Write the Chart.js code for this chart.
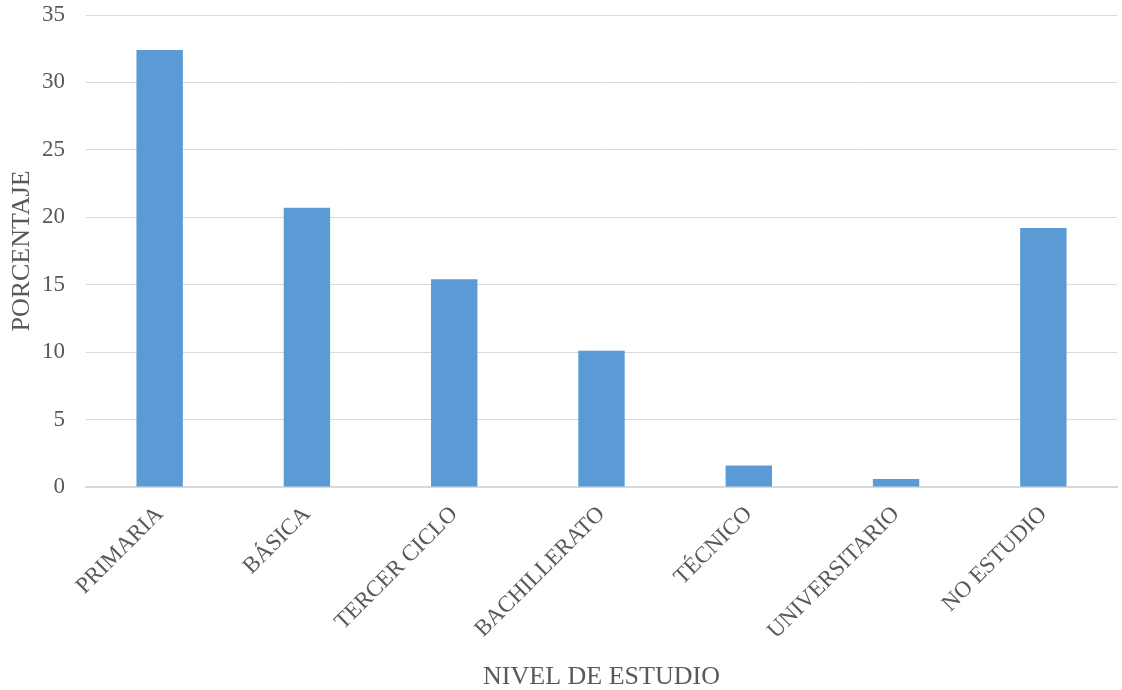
<!DOCTYPE html>
<html>
<head>
<meta charset="utf-8">
<script src="https://cdn.jsdelivr.net/npm/chart.js@4/dist/chart.umd.min.js"></script>
<style>
  html, body { margin: 0; padding: 0; background: #fff; }
  #wrap { width: 1122px; height: 690px; position: relative; }
</style>
</head>
<body>
<div id="wrap"><canvas id="c"></canvas></div>
<script>
// Nivel de estudio (porcentaje)
const categories = ['PRIMARIA', 'BÁSICA', 'TERCER CICLO', 'BACHILLERATO', 'TÉCNICO', 'UNIVERSITARIO', 'NO ESTUDIO'];
const porcentaje = [32.4, 20.7, 15.4, 10.1, 1.6, 0.6, 19.2];
const yTicks = [0, 5, 10, 15, 20, 25, 30, 35];

const serif = '"Liberation Serif", "Times New Roman", serif';

new Chart(document.getElementById('c'), {
  type: 'bar',
  data: {
    labels: categories,
    datasets: [{
      data: porcentaje,
      backgroundColor: '#5b9bd5',
      borderWidth: 0,
      categoryPercentage: 1,
      barPercentage: 0.315
    }]
  },
  options: {
    responsive: true,
    maintainAspectRatio: false,
    animation: false,
    layout: { padding: { top: 15, right: 5, left: 0, bottom: 0 } },
    plugins: { legend: { display: false }, tooltip: { enabled: false } },
    scales: {
      x: {
        grid: { display: false, drawTicks: false },
        border: { display: true, color: '#d9d9d9', width: 2 },
        ticks: {
          color: '#595959',
          font: { family: serif, size: 23 },
          minRotation: 45,
          maxRotation: 45,
          padding: 14
        },
        title: {
          display: true,
          text: 'NIVEL DE ESTUDIO',
          color: '#595959',
          font: { family: serif, size: 26, lineHeight: 1.0 },
          padding: { top: 0, bottom: 0 }
        },
        afterFit: (s) => { s.height = 203; s.paddingLeft = 0; s.paddingRight = 0; }
      },
      y: {
        min: 0,
        max: 35,
        afterBuildTicks: (s) => { s.ticks = yTicks.map(v => ({ value: v })); },
        grid: { color: '#d9d9d9', lineWidth: 1, drawTicks: false },
        border: { display: false },
        ticks: {
          color: '#595959',
          font: { family: serif, size: 23 },
          padding: 21
        },
        title: {
          display: true,
          text: 'PORCENTAJE',
          color: '#595959',
          font: { family: serif, size: 26 },
          padding: { top: 7, bottom: 0 }
        },
        afterFit: (s) => { s.width = 86; s.paddingTop = 0; s.paddingBottom = 0; }
      }
    }
  }
});
</script>
</body>
</html>
